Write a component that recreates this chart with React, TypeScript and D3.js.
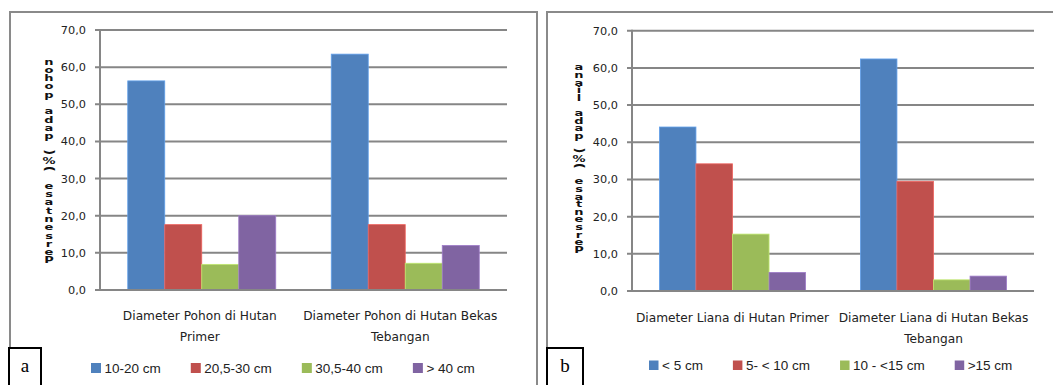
import React, { useEffect, useRef } from "react";
import * as d3 from "d3";

// ---------- data ----------
const categoriesA: string[][] = [
  ["Diameter Pohon di Hutan", "Primer"],
  ["Diameter Pohon di Hutan Bekas", "Tebangan"],
];
const seriesA = ["10-20 cm", "20,5-30 cm", "30,5-40 cm", "> 40 cm"];
// values per series, one per category
const valuesA: number[][] = [
  [56.3, 63.5],
  [17.6, 17.6],
  [6.9, 7.2],
  [20.0, 12.0],
];
const yTitleA = "Persentase (%) pada pohon";

const categoriesB: string[][] = [
  ["Diameter Liana di Hutan Primer"],
  ["Diameter Liana di Hutan Bekas", "Tebangan"],
];
const seriesB = ["< 5 cm", "5- < 10 cm", "10 - <15 cm", ">15 cm"];
const valuesB: number[][] = [
  [44.1, 62.4],
  [34.2, 29.5],
  [15.3, 3.0],
  [5.0, 4.0],
];
const yTitleB = "Persentase (%) pada liana";

const yTicks = [0, 10, 20, 30, 40, 50, 60, 70];
const colors = ["#4F81BD", "#C0504D", "#9BBB59", "#8064A2"];
const panelLetters = ["a", "b"];

type PanelCfg = {
  categories: string[][];
  series: string[];
  values: number[][];
  title: string;
  letter: string;
  frame: [number, number];
  x0: number;
  x1: number;
  yTop: number;
  yBottom: number;
  titleX: number;
  titleTop: number;
  titleBottom: number;
  catY: number;
  catDx: number[];
  legendX: number;
  legendY: number;
  boxX: [number, number];
  sq: number;
};

const panels: PanelCfg[] = [
  {
    categories: categoriesA,
    series: seriesA,
    values: valuesA,
    title: yTitleA,
    letter: panelLetters[0],
    frame: [10, 537],
    x0: 100,
    x1: 507,
    yTop: 30,
    yBottom: 290,
    titleX: 49,
    titleTop: 57,
    titleBottom: 264,
    catY: 320,
    catDx: [-2, -5],
    legendX: 91,
    legendY: 373,
    boxX: [9, 41],
    sq: 10,
  },
  {
    categories: categoriesB,
    series: seriesB,
    values: valuesB,
    title: yTitleB,
    letter: panelLetters[1],
    frame: [547, 1060],
    x0: 632,
    x1: 1034,
    yTop: 30.7,
    yBottom: 291,
    titleX: 579,
    titleTop: 63,
    titleBottom: 253,
    catY: 322,
    catDx: [0, 0],
    legendX: 649,
    legendY: 370,
    boxX: [547, 583],
    sq: 9.5,
  },
];

const fmt = (v: number) => d3.format(".1f")(v).replace(".", ",");

export default function App() {
  const ref = useRef<SVGSVGElement | null>(null);

  useEffect(() => {
    const svg = d3.select(ref.current);
    svg.selectAll("*").remove();
    svg.append("rect").attr("width", 1053).attr("height", 385).attr("fill", "#fff");

    panels.forEach((p) => {
      const g = svg.append("g");
      g.append("path")
        .attr(
          "d",
          `M${p.frame[0]},400 L${p.frame[0]},12 L${p.frame[1]},12 L${p.frame[1]},400`
        )
        .attr("fill", "none")
        .attr("stroke", "#8a8a8a")
        .attr("stroke-width", 2);

      const y = d3.scaleLinear().domain([0, 70]).range([p.yBottom, p.yTop]);
      const x = d3
        .scaleBand<number>()
        .domain(p.categories.map((_, i) => i))
        .range([p.x0, p.x1])
        .paddingInner(1.5 / 5.5)
        .paddingOuter(0.75 / 5.5);
      const xs = d3
        .scaleBand<number>()
        .domain(p.series.map((_, i) => i))
        .range([0, x.bandwidth()]);

      g.append("g")
        .selectAll("line")
        .data(yTicks)
        .join("line")
        .attr("x1", p.x0 - 5)
        .attr("x2", p.x1)
        .attr("y1", (d) => y(d))
        .attr("y2", (d) => y(d))
        .attr("stroke", "#868686")
        .attr("stroke-width", 2);

      g.append("g")
        .selectAll("text")
        .data(yTicks)
        .join("text")
        .attr("x", p.x0 - 14)
        .attr("y", (d) => y(d) + 4)
        .attr("text-anchor", "end")
        .attr("font-family", "DejaVu Sans")
        .attr("font-size", 11.3)
        .attr("fill", "#222")
        .text((d) => fmt(d));

      p.series.forEach((s, si) => {
        g.append("g")
          .selectAll("rect")
          .data(p.values[si])
          .join("rect")
          .attr("x", (_, ci) => (x(ci) as number) + (xs(si) as number))
          .attr("width", xs.bandwidth())
          .attr("y", (d) => y(d))
          .attr("height", (d) => y(0) - y(d))
          .attr("fill", colors[si])
          .attr("stroke", d3.color(colors[si])!.brighter(0.6).formatHex())
          .attr("stroke-width", 0.8);
      });

      g.append("line")
        .attr("x1", p.x0)
        .attr("x2", p.x0)
        .attr("y1", p.yTop - 1)
        .attr("y2", p.yBottom + 1)
        .attr("stroke", "#868686")
        .attr("stroke-width", 2);
      g.append("line")
        .attr("x1", p.x0 - 5)
        .attr("x2", p.x1)
        .attr("y1", y(0))
        .attr("y2", y(0))
        .attr("stroke", "#868686")
        .attr("stroke-width", 2);

      p.categories.forEach((lines, ci) => {
        const cx = (x(ci) as number) + x.bandwidth() / 2 + p.catDx[ci];
        lines.forEach((ln, li) => {
          g.append("text")
            .attr("x", cx)
            .attr("y", p.catY + li * 20.5)
            .attr("text-anchor", "middle")
            .attr("font-family", "DejaVu Sans")
            .attr("font-size", 12.2)
            .attr("fill", "#222")
            .text(ln);
        });
      });

      // y title: stacked glyphs, reversed order (as rendered in the source)
      const chars = p.title.split("").reverse();
      const pitch = (p.titleBottom - p.titleTop) / chars.length;
      chars.forEach((c, i) => {
        const cy = p.titleTop + pitch * (i + 0.5);
        const t = g
          .append("text")
          .attr("font-family", "DejaVu Sans")
          .attr("font-weight", "bold")
          .attr("font-size", 13)
          .attr("text-anchor", "middle")
          .attr("fill", "#111")
          .text(c);
        if (c === "(" || c === ")") {
          t.attr("transform", `translate(${p.titleX},${cy}) rotate(90) translate(0,4)`);
        } else {
          t.attr("transform", `translate(${p.titleX},${cy + 3.5}) scale(1,0.72)`);
        }
      });

      let lx = p.legendX;
      p.series.forEach((s, si) => {
        g.append("rect")
          .attr("x", lx)
          .attr("y", p.legendY - p.sq)
          .attr("width", p.sq)
          .attr("height", p.sq)
          .attr("fill", colors[si]);
        const t = g
          .append("text")
          .attr("x", lx + p.sq + 3.5)
          .attr("y", p.legendY)
          .attr("font-family", "Liberation Sans")
          .attr("font-size", 13.5)
          .attr("fill", "#222")
          .text(s);
        const w = (t.node() as SVGTextElement).getComputedTextLength();
        lx += p.sq + 3.5 + w + 30;
      });

      g.append("path")
        .attr(
          "d",
          `M${p.boxX[0]},400 L${p.boxX[0]},348 L${p.boxX[1]},348 L${p.boxX[1]},400`
        )
        .attr("fill", "#fff")
        .attr("stroke", "#000")
        .attr("stroke-width", 2);
      g.append("text")
        .attr("x", (p.boxX[0] + p.boxX[1]) / 2)
        .attr("y", 372)
        .attr("text-anchor", "middle")
        .attr("font-family", "Liberation Serif")
        .attr("font-size", 19)
        .attr("fill", "#000")
        .text(p.letter);
    });
  }, []);

  return (
    <svg
      ref={ref}
      width={1053}
      height={385}
      style={{ position: "absolute", left: 0, top: 0, display: "block" }}
    />
  );
}
